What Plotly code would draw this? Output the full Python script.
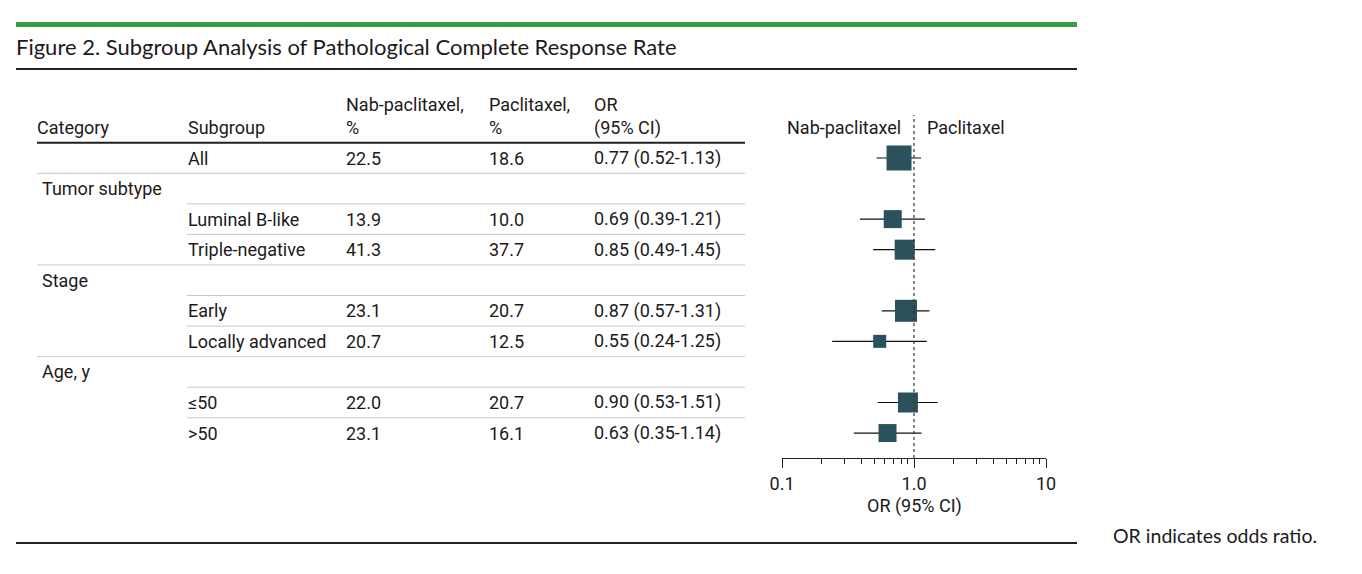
import plotly.graph_objects as go

# table rows, top to bottom
row_category = ["", "Tumor subtype", "", "", "Stage", "", "", "Age, y", "", ""]
row_subgroup = ["All", "", "Luminal B-like", "Triple-negative", "", "Early",
                "Locally advanced", "", "≤50", ">50"]
nab_pct = [22.5, None, 13.9, 41.3, None, 23.1, 20.7, None, 22.0, 23.1]
pac_pct = [18.6, None, 10.0, 37.7, None, 20.7, 12.5, None, 20.7, 16.1]
odds_ratio = [0.77, None, 0.69, 0.85, None, 0.87, 0.55, None, 0.90, 0.63]
ci_low = [0.52, None, 0.39, 0.49, None, 0.57, 0.24, None, 0.53, 0.35]
ci_high = [1.13, None, 1.21, 1.45, None, 1.31, 1.25, None, 1.51, 1.14]
# relative box size (weight) per subgroup row
box_weight = [25, None, 18, 20, None, 22, 13, None, 20, 18]

tick_vals = [0.1, 1, 10]
tick_text = ["0.1", "1.0", "10"]
minor_vals = [0.2, 0.3, 0.4, 0.5, 0.6, 0.7, 0.8, 0.9, 2, 3, 4, 5, 6, 7, 8, 9]

W, H = 1362, 574
TXT = "#1c1a1b"
BOX = "#2b515d"
BODY_FONT = "Roboto"
BODY_SIZE = 18


def px(x):
    return x / W


def py(y):
    return 1 - y / H


rows = list(range(len(row_subgroup)))
idx = [i for i in rows if odds_ratio[i] is not None]

fig = go.Figure()
fig.add_trace(go.Scatter(
    x=[odds_ratio[i] for i in idx],
    y=[i for i in idx],
    mode="markers",
    marker=dict(symbol="square", size=[box_weight[i] for i in idx], color=BOX,
                opacity=1, line=dict(width=0)),
    error_x=dict(type="data", symmetric=False,
                 array=[ci_high[i] - odds_ratio[i] for i in idx],
                 arrayminus=[odds_ratio[i] - ci_low[i] for i in idx],
                 color="#111111", thickness=1.2, width=0),
    hoverinfo="skip",
    showlegend=False,
))

ann = []


def txt(x, y, s, yref="y", xanchor="left", size=BODY_SIZE, family=BODY_FONT):
    ann.append(dict(x=x, y=y, xref="paper", yref=yref, text=s, showarrow=False,
                    xanchor=xanchor, yanchor="middle", borderpad=0,
                    font=dict(family=family, size=size, color=TXT)))


# title and footnote
txt(px(15), py(47), "Figure 2. Subgroup Analysis of Pathological Complete Response Rate",
    yref="paper", size=22, family="Lato")
txt(px(1112), py(535), "OR indicates odds ratio.", yref="paper", size=19.5, family="Lato")

# table header
txt(px(36), py(128), "Category", yref="paper")
txt(px(187), py(128), "Subgroup", yref="paper")
txt(px(345), py(104), "Nab-paclitaxel,", yref="paper")
txt(px(345), py(128), "%", yref="paper")
txt(px(488), py(104), "Paclitaxel,", yref="paper")
txt(px(488), py(128), "%", yref="paper")
txt(px(593), py(104), "OR", yref="paper")
txt(px(593), py(128), "(95% CI)", yref="paper")
txt(px(902), py(128), "Nab-paclitaxel", yref="paper", xanchor="right")
txt(px(926), py(128), "Paclitaxel", yref="paper")
txt(px(914), py(506), "OR (95% CI)", yref="paper", xanchor="center")

# table body
for i in rows:
    if row_category[i]:
        txt(px(41), i, row_category[i])
    if row_subgroup[i]:
        txt(px(187), i, row_subgroup[i])
    if nab_pct[i] is not None:
        txt(px(345), i, f"{nab_pct[i]:.1f}")
        txt(px(488), i, f"{pac_pct[i]:.1f}")
        txt(px(593), i, f"{odds_ratio[i]:.2f} ({ci_low[i]:.2f}-{ci_high[i]:.2f})")

shapes = [
    dict(type="line", xref="paper", yref="paper", x0=px(16), x1=px(1077),
         y0=py(24.5), y1=py(24.5), line=dict(color="#3d9a46", width=5)),
    dict(type="line", xref="paper", yref="paper", x0=px(16), x1=px(1077),
         y0=py(69), y1=py(69), line=dict(color="#231f20", width=2)),
    dict(type="line", xref="paper", yref="paper", x0=px(16), x1=px(1077),
         y0=py(543), y1=py(543), line=dict(color="#231f20", width=2)),
    dict(type="line", xref="paper", yref="y", x0=px(37), x1=px(745),
         y0=-0.5, y1=-0.5, line=dict(color="#231f20", width=2)),
    dict(type="line", xref="x", yref="y domain", x0=1, x1=1, y0=0, y1=1,
         line=dict(color="#333333", width=1.2, dash="dot")),
]
# row separators: full width before each category row, indented otherwise
for i in rows[:-1]:
    x0 = px(37) if row_category[i + 1] else px(187)
    shapes.append(dict(type="line", xref="paper", yref="y", x0=x0, x1=px(745),
                       y0=i + 0.5, y1=i + 0.5,
                       line=dict(color="#c8c8c8", width=1)))

row_top, row_step = 158, 30.56
fig.update_layout(
    width=W, height=H,
    margin=dict(l=0, r=0, t=0, b=0, pad=0, autoexpand=False),
    paper_bgcolor="white", plot_bgcolor="white",
    xaxis=dict(type="log", range=[-1, 1], domain=[px(782), px(1046)],
               automargin=False,
               showgrid=False, zeroline=False, showline=True,
               linecolor="#231f20", linewidth=1.2,
               tickvals=tick_vals, ticktext=tick_text,
               ticks="outside", ticklen=9, tickwidth=1.2, tickcolor="#231f20",
               tickfont=dict(family=BODY_FONT, size=BODY_SIZE, color=TXT),
               minor=dict(tickvals=minor_vals, ticks="outside", ticklen=5,
                          tickwidth=1, tickcolor="#231f20", showgrid=False),
               fixedrange=True),
    yaxis=dict(range=[(458 - row_top) / row_step, (115 - row_top) / row_step],
               domain=[py(458), py(115)], automargin=False,
               showgrid=False, zeroline=False, showline=False,
               showticklabels=False, ticks="", fixedrange=True),
    annotations=ann,
    shapes=shapes,
)

fig.write_html("out.html", post_script="document.body.style.margin='0';",
               config={"displayModeBar": False})
